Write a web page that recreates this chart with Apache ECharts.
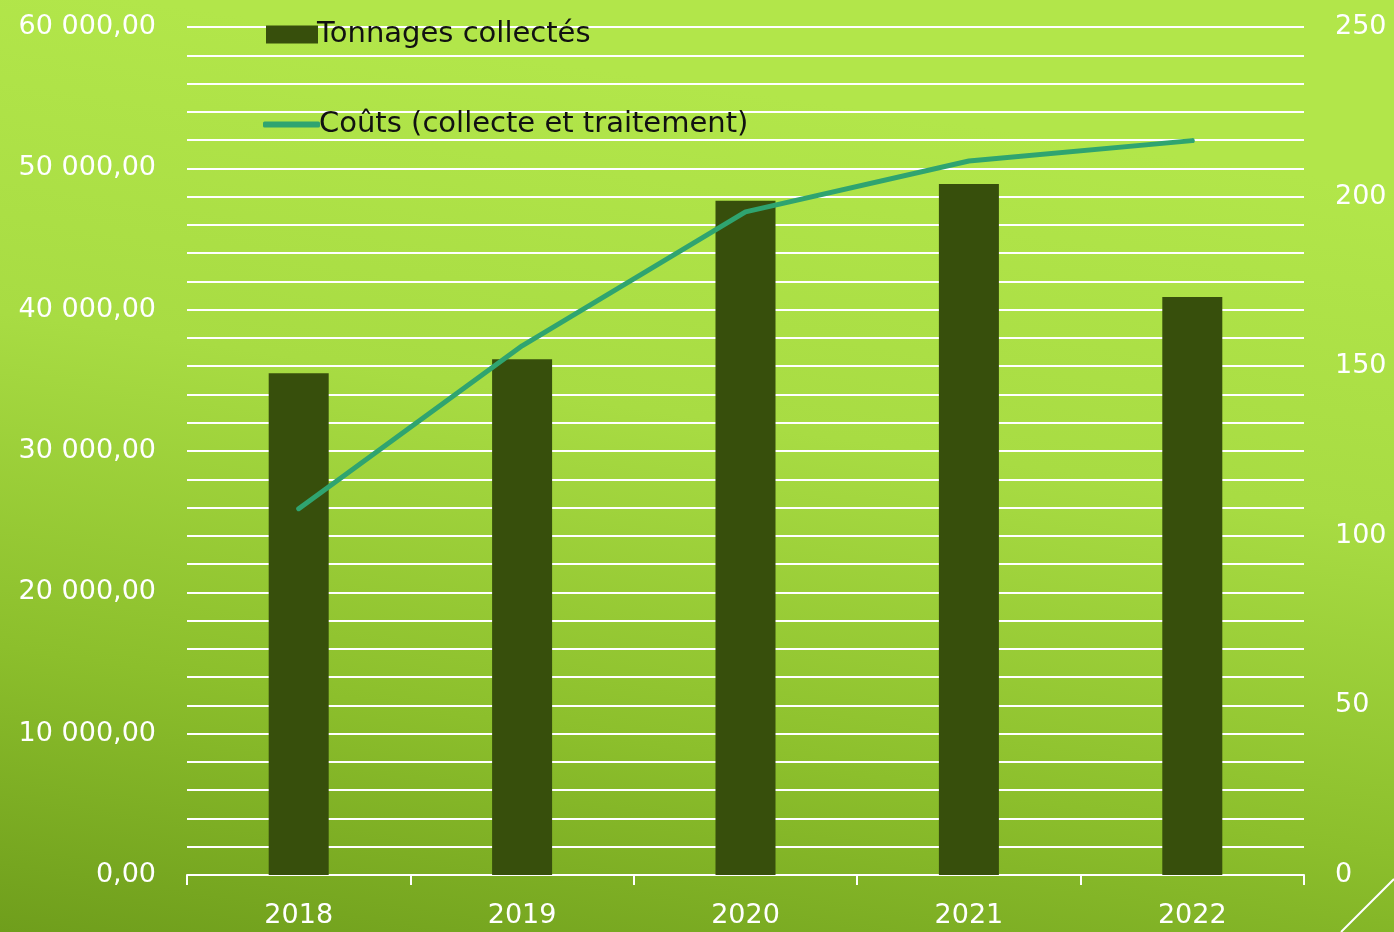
<!DOCTYPE html>
<html><head><meta charset="utf-8">
<script src="https://cdn.jsdelivr.net/npm/echarts@6/dist/echarts.min.js"></script>
<style>html,body{margin:0;padding:0;}#c{width:1394px;height:932px;}</style>
</head><body><div id="c"></div>
<script>
const years = ['2018','2019','2020','2021','2022'];
const tonnages = [35500, 36500, 47700, 48900, 40900];
const couts = [108, 156, 195.5, 210.5, 216.5];
const seriesNames = ['Tonnages collectés', 'Coûts (collecte et traitement)'];

const FONT = 'DejaVu Sans';
function fmtLeft(v){
  const s = Math.round(v).toString().replace(/\B(?=(\d{3})+(?!\d))/g, ' ');
  return s + ',00';
}
const chart = echarts.init(document.getElementById('c'));
chart.setOption({
  backgroundColor: {
    type: 'linear', x: 0.1, y: 0, x2: 0, y2: 1,
    colorStops: [
      {offset: 0, color: '#b2e64a'},
      {offset: 0.35, color: '#a8dc43'},
      {offset: 0.7, color: '#8cbf2c'},
      {offset: 1, color: '#6f9e1c'}
    ]
  },
  textStyle: {fontFamily: FONT},
  animation: false,
  grid: {left: 187, right: 90, top: 27, bottom: 57},
  legend: [
    {
      left: 261, top: 15, itemWidth: 52, itemHeight: 18,
      textStyle: {color: '#111', fontSize: 29, fontFamily: FONT, padding: [0,0,0,-6]},
      data: [{name: seriesNames[0], icon: 'rect'}]
    },
    {
      left: 258, top: 105, itemWidth: 57, itemHeight: 6,
      textStyle: {color: '#111', fontSize: 29, fontFamily: FONT, padding: [0,0,0,-6]},
      itemStyle: {color: '#2fa470'},
      data: [{name: seriesNames[1], icon: 'roundRect'}]
    }
  ],
  xAxis: {
    type: 'category', data: years,
    axisLine: {lineStyle: {color: '#fff', width: 2}},
    axisTick: {show: true, length: 10, lineStyle: {color: '#fff', width: 2}},
    axisLabel: {color: '#fff', fontSize: 27, margin: 27, fontFamily: FONT}
  },
  yAxis: [
    {
      type: 'value', min: 0, max: 60000, interval: 10000,
      axisLine: {show: false}, axisTick: {show: false},
      axisLabel: {color: '#fff', fontSize: 27, margin: 31, formatter: fmtLeft, fontFamily: FONT},
      splitLine: {lineStyle: {color: '#fff', width: 2}},
      minorTick: {show: false, splitNumber: 5},
      minorSplitLine: {show: true, lineStyle: {color: '#fff', width: 2}}
    },
    {
      type: 'value', min: 0, max: 250, interval: 50,
      axisLine: {show: false}, axisTick: {show: false},
      axisLabel: {color: '#fff', fontSize: 27, margin: 31, fontFamily: FONT},
      splitLine: {show: false}
    }
  ],
  series: [
    {
      name: seriesNames[0], type: 'bar', data: tonnages, barWidth: 60,
      itemStyle: {color: '#374f0c'}, z: 3
    },
    {
      name: seriesNames[1], type: 'line', yAxisIndex: 1, data: couts,
      symbol: 'none', lineStyle: {color: '#2fa470', width: 5, cap: 'round'},
      itemStyle: {color: '#2fa470'}, z: 4
    }
  ],
  graphic: [
    {type: 'line', shape: {x1: 1394, y1: 879, x2: 1341, y2: 932}, style: {stroke: '#fff', lineWidth: 2}, silent: true}
  ]
});
</script></body></html>
